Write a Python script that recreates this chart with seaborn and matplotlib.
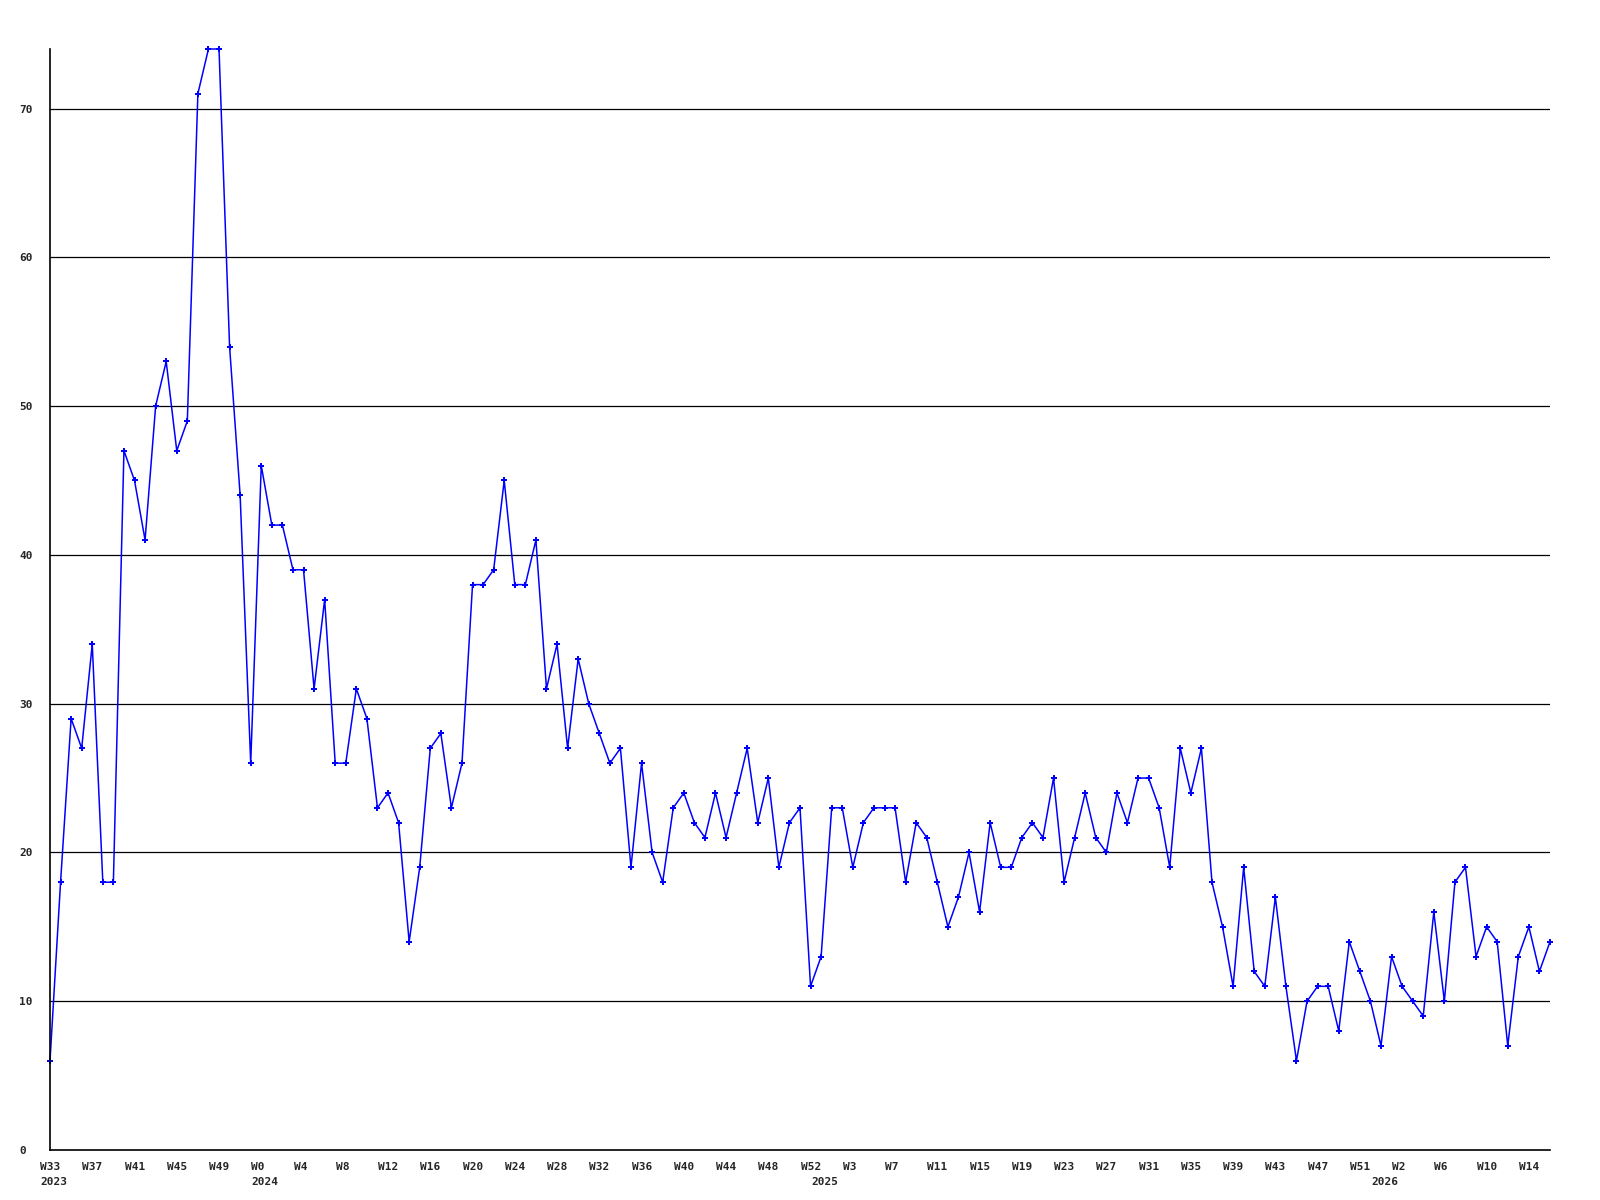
import matplotlib
matplotlib.use("Agg")
import matplotlib.pyplot as plt
import matplotlib.transforms as mtransforms
import seaborn as sns
import pandas as pd

# weekly counts, W33 2023 .. W16 2026
values = [6, 18, 29, 27, 34, 18, 18, 47, 45, 41, 50, 53, 47, 49, 71, 74, 74, 54, 44, 26,
          46, 42, 42, 39, 39, 31, 37, 26, 26, 31, 29, 23, 24, 22, 14, 19, 27, 28, 23, 26,
          38, 38, 39, 45, 38, 38, 41, 31, 34, 27, 33, 30, 28, 26, 27, 19, 26, 20, 18, 23,
          24, 22, 21, 24, 21, 24, 27, 22, 25, 19, 22, 23, 11, 13, 23, 23, 19, 22, 23, 23,
          23, 18, 22, 21, 18, 15, 17, 20, 16, 22, 19, 19, 21, 22, 21, 25, 18, 21, 24, 21,
          20, 24, 22, 25, 25, 23, 19, 27, 24, 27, 18, 15, 11, 19, 12, 11, 17, 11, 6, 10,
          11, 11, 8, 14, 12, 10, 7, 13, 11, 10, 9, 16, 10, 18, 19, 13, 15, 14, 7, 13,
          15, 12, 14]

week_labels = ["W33", "W37", "W41", "W45", "W49", "W0", "W4", "W8", "W12", "W16", "W20",
               "W24", "W28", "W32", "W36", "W40", "W44", "W48", "W52", "W3", "W7", "W11",
               "W15", "W19", "W23", "W27", "W31", "W35", "W39", "W43", "W47", "W51", "W2",
               "W6", "W10", "W14"]
week_pos = [0, 4, 8, 12, 16, 20, 24, 28, 32, 36, 40, 44, 48, 52, 56, 60, 64, 68, 72, 76,
            80, 84, 88, 92, 96, 100, 104, 108, 112, 116, 120, 124, 128, 132, 136, 140]
year_labels = ["2023", "2024", "2025", "2026"]
year_pos = [0, 20, 73, 126]

y_ticks = [0, 10, 20, 30, 40, 50, 60, 70]

df = pd.DataFrame({"week": range(len(values)), "count": values})

sns.set_style("white")
plt.rcParams["font.family"] = ["DejaVu Sans Mono", "DejaVu Sans"]
plt.rcParams["font.weight"] = "bold"

fig = plt.figure(figsize=(16, 12), dpi=100)
ax = fig.add_axes([50 / 1600, 1 - 1150 / 1200, 1500 / 1600, 1101 / 1200])

sns.lineplot(data=df, x="week", y="count", ax=ax, color="#0000ff", linewidth=1.1,
             marker="P", markersize=5, markeredgewidth=0, clip_on=False)

ax.set_xlim(0, len(values) - 1)
ax.set_ylim(0, max(values))
ax.set_xlabel("")
ax.set_ylabel("")

for y in y_ticks[1:]:
    ax.axhline(y, color="black", linewidth=0.9, zorder=0)

# x labels: week row plus year row, left aligned just before each tick
ax.set_xticks(week_pos)
ax.set_xticklabels(week_labels)
ax.tick_params(axis="x", length=0, pad=9, labelsize=8)
shift = mtransforms.ScaledTranslation(-10 / 100, 0, fig.dpi_scale_trans)
for lbl in ax.get_xticklabels():
    lbl.set_ha("left")
    lbl.set_transform(lbl.get_transform() + shift)
for pos, yr in zip(year_pos, year_labels):
    ax.text(pos, 0, yr, transform=ax.get_xaxis_transform() + shift
            + mtransforms.ScaledTranslation(0, -27 / 100, fig.dpi_scale_trans),
            ha="left", va="top", fontsize=8, fontweight="bold")

ax.set_yticks(y_ticks)
ax.set_yticklabels([str(v) for v in y_ticks])
ax.tick_params(axis="y", length=0, pad=22, labelsize=8)
for lbl in ax.get_yticklabels():
    lbl.set_ha("left")

for side in ["top", "right"]:
    ax.spines[side].set_visible(False)
for side in ["left", "bottom"]:
    ax.spines[side].set_color("black")
    ax.spines[side].set_linewidth(1.2)

fig.savefig("out.png", dpi=100, facecolor="white")
